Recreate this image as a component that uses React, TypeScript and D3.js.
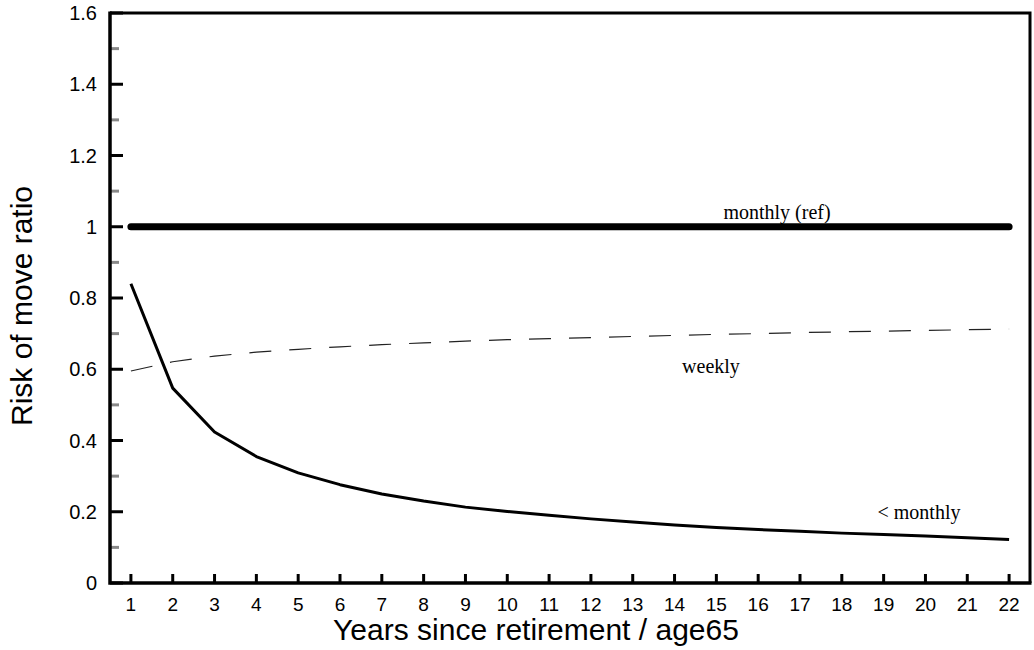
import React, { useRef, useEffect } from "react";
import { select, scaleLinear, line, range } from "d3";

const years = range(1, 23);
const monthlyRef = [1, 1, 1, 1, 1, 1, 1, 1, 1, 1, 1, 1, 1, 1, 1, 1, 1, 1, 1, 1, 1, 1];
const weekly = [0.595, 0.621, 0.637, 0.648, 0.656, 0.663, 0.669, 0.674, 0.679, 0.683, 0.686,
  0.689, 0.692, 0.695, 0.698, 0.7, 0.703, 0.705, 0.707, 0.709, 0.711, 0.713];
const lessMonthly = [0.84, 0.547, 0.424, 0.355, 0.309, 0.276, 0.25, 0.23, 0.213, 0.201, 0.19,
  0.18, 0.171, 0.163, 0.156, 0.15, 0.145, 0.14, 0.136, 0.132, 0.127, 0.122];
const yMajor = [0, 0.2, 0.4, 0.6, 0.8, 1, 1.2, 1.4, 1.6];
const yMinor = [0.1, 0.3, 0.5, 0.7, 0.9, 1.1, 1.3, 1.5];

function RiskChart() {
  const svgRef = useRef(null);

  useEffect(() => {
    const svg = select(svgRef.current);
    svg.selectAll("*").remove();

    const left = 110, right = 1030, top = 13, bottom = 583;
    const xScale = scaleLinear().domain([0.5, 22.5]).range([left, right]);
    const yScale = scaleLinear().domain([0, 1.6]).range([bottom, top]);
    const sans = "Liberation Sans, Arial, sans-serif";
    const serif = "Liberation Serif, Times New Roman, serif";

    // frame (top + right)
    svg.append("path")
      .attr("d", `M${left},${top}H${right}V${bottom}`)
      .attr("fill", "none").attr("stroke", "black").attr("stroke-width", 3);

    // minor y ticks
    svg.selectAll(".ymin").data(yMinor).join("line")
      .attr("x1", left).attr("x2", left + 9)
      .attr("y1", d => yScale(d)).attr("y2", d => yScale(d))
      .attr("stroke", "#888").attr("stroke-width", 3);

    // major y ticks
    svg.selectAll(".ymaj").data(yMajor).join("line")
      .attr("x1", left).attr("x2", left + 13)
      .attr("y1", d => yScale(d)).attr("y2", d => yScale(d))
      .attr("stroke", "black").attr("stroke-width", 3);

    svg.selectAll(".ylab").data(yMajor).join("text")
      .attr("x", left - 13).attr("y", d => yScale(d)).attr("dy", "0.35em")
      .attr("text-anchor", "end").attr("font-family", sans).attr("font-size", 20)
      .text(d => String(d));

    // x ticks
    svg.selectAll(".xt").data(years).join("line")
      .attr("x1", d => xScale(d)).attr("x2", d => xScale(d))
      .attr("y1", bottom).attr("y2", bottom - 9)
      .attr("stroke", "black").attr("stroke-width", 3);

    svg.selectAll(".xlab").data(years).join("text")
      .attr("x", d => xScale(d)).attr("y", bottom + 28)
      .attr("text-anchor", "middle").attr("font-family", sans).attr("font-size", 19)
      .text(d => String(d));

    // axes lines
    svg.append("path")
      .attr("d", `M${left},${top - 1.5}V${bottom}H${right + 1.5}`)
      .attr("fill", "none").attr("stroke", "black").attr("stroke-width", 3.5);

    const mk = (vals: number[]) =>
      line<number>().x((d, i) => xScale(years[i])).y(d => yScale(d))(vals);

    svg.append("path").attr("d", mk(monthlyRef))
      .attr("fill", "none").attr("stroke", "black").attr("stroke-width", 7)
      .attr("stroke-linecap", "round");

    svg.append("path").attr("d", mk(weekly))
      .attr("fill", "none").attr("stroke", "#222").attr("stroke-width", 1.2)
      .attr("stroke-dasharray", "22,18");

    svg.append("path").attr("d", mk(lessMonthly))
      .attr("fill", "none").attr("stroke", "black").attr("stroke-width", 3)
      .attr("stroke-linejoin", "round");

    // series labels
    svg.append("text").attr("x", 777).attr("y", 219).attr("text-anchor", "middle")
      .attr("font-family", serif).attr("font-size", 20).text("monthly (ref)");
    svg.append("text").attr("x", 711).attr("y", 373).attr("text-anchor", "middle")
      .attr("font-family", serif).attr("font-size", 20).text("weekly");
    svg.append("text").attr("x", 919).attr("y", 519).attr("text-anchor", "middle")
      .attr("font-family", serif).attr("font-size", 20).text("< monthly");

    // axis titles
    svg.append("text").attr("x", 536).attr("y", 640).attr("text-anchor", "middle")
      .attr("font-family", sans).attr("font-size", 30)
      .text("Years since retirement / age65");
    svg.append("text")
      .attr("transform", "translate(32,306) rotate(-90)")
      .attr("text-anchor", "middle")
      .attr("font-family", sans).attr("font-size", 30)
      .text("Risk of move ratio");
  }, []);

  return (
    <div style={{ position: "absolute", left: 0, top: 0 }}>
      <svg ref={svgRef} width={1034} height={650} style={{ display: "block", background: "white" }} />
    </div>
  );
}

export default function App() {
  return <RiskChart />;
}
